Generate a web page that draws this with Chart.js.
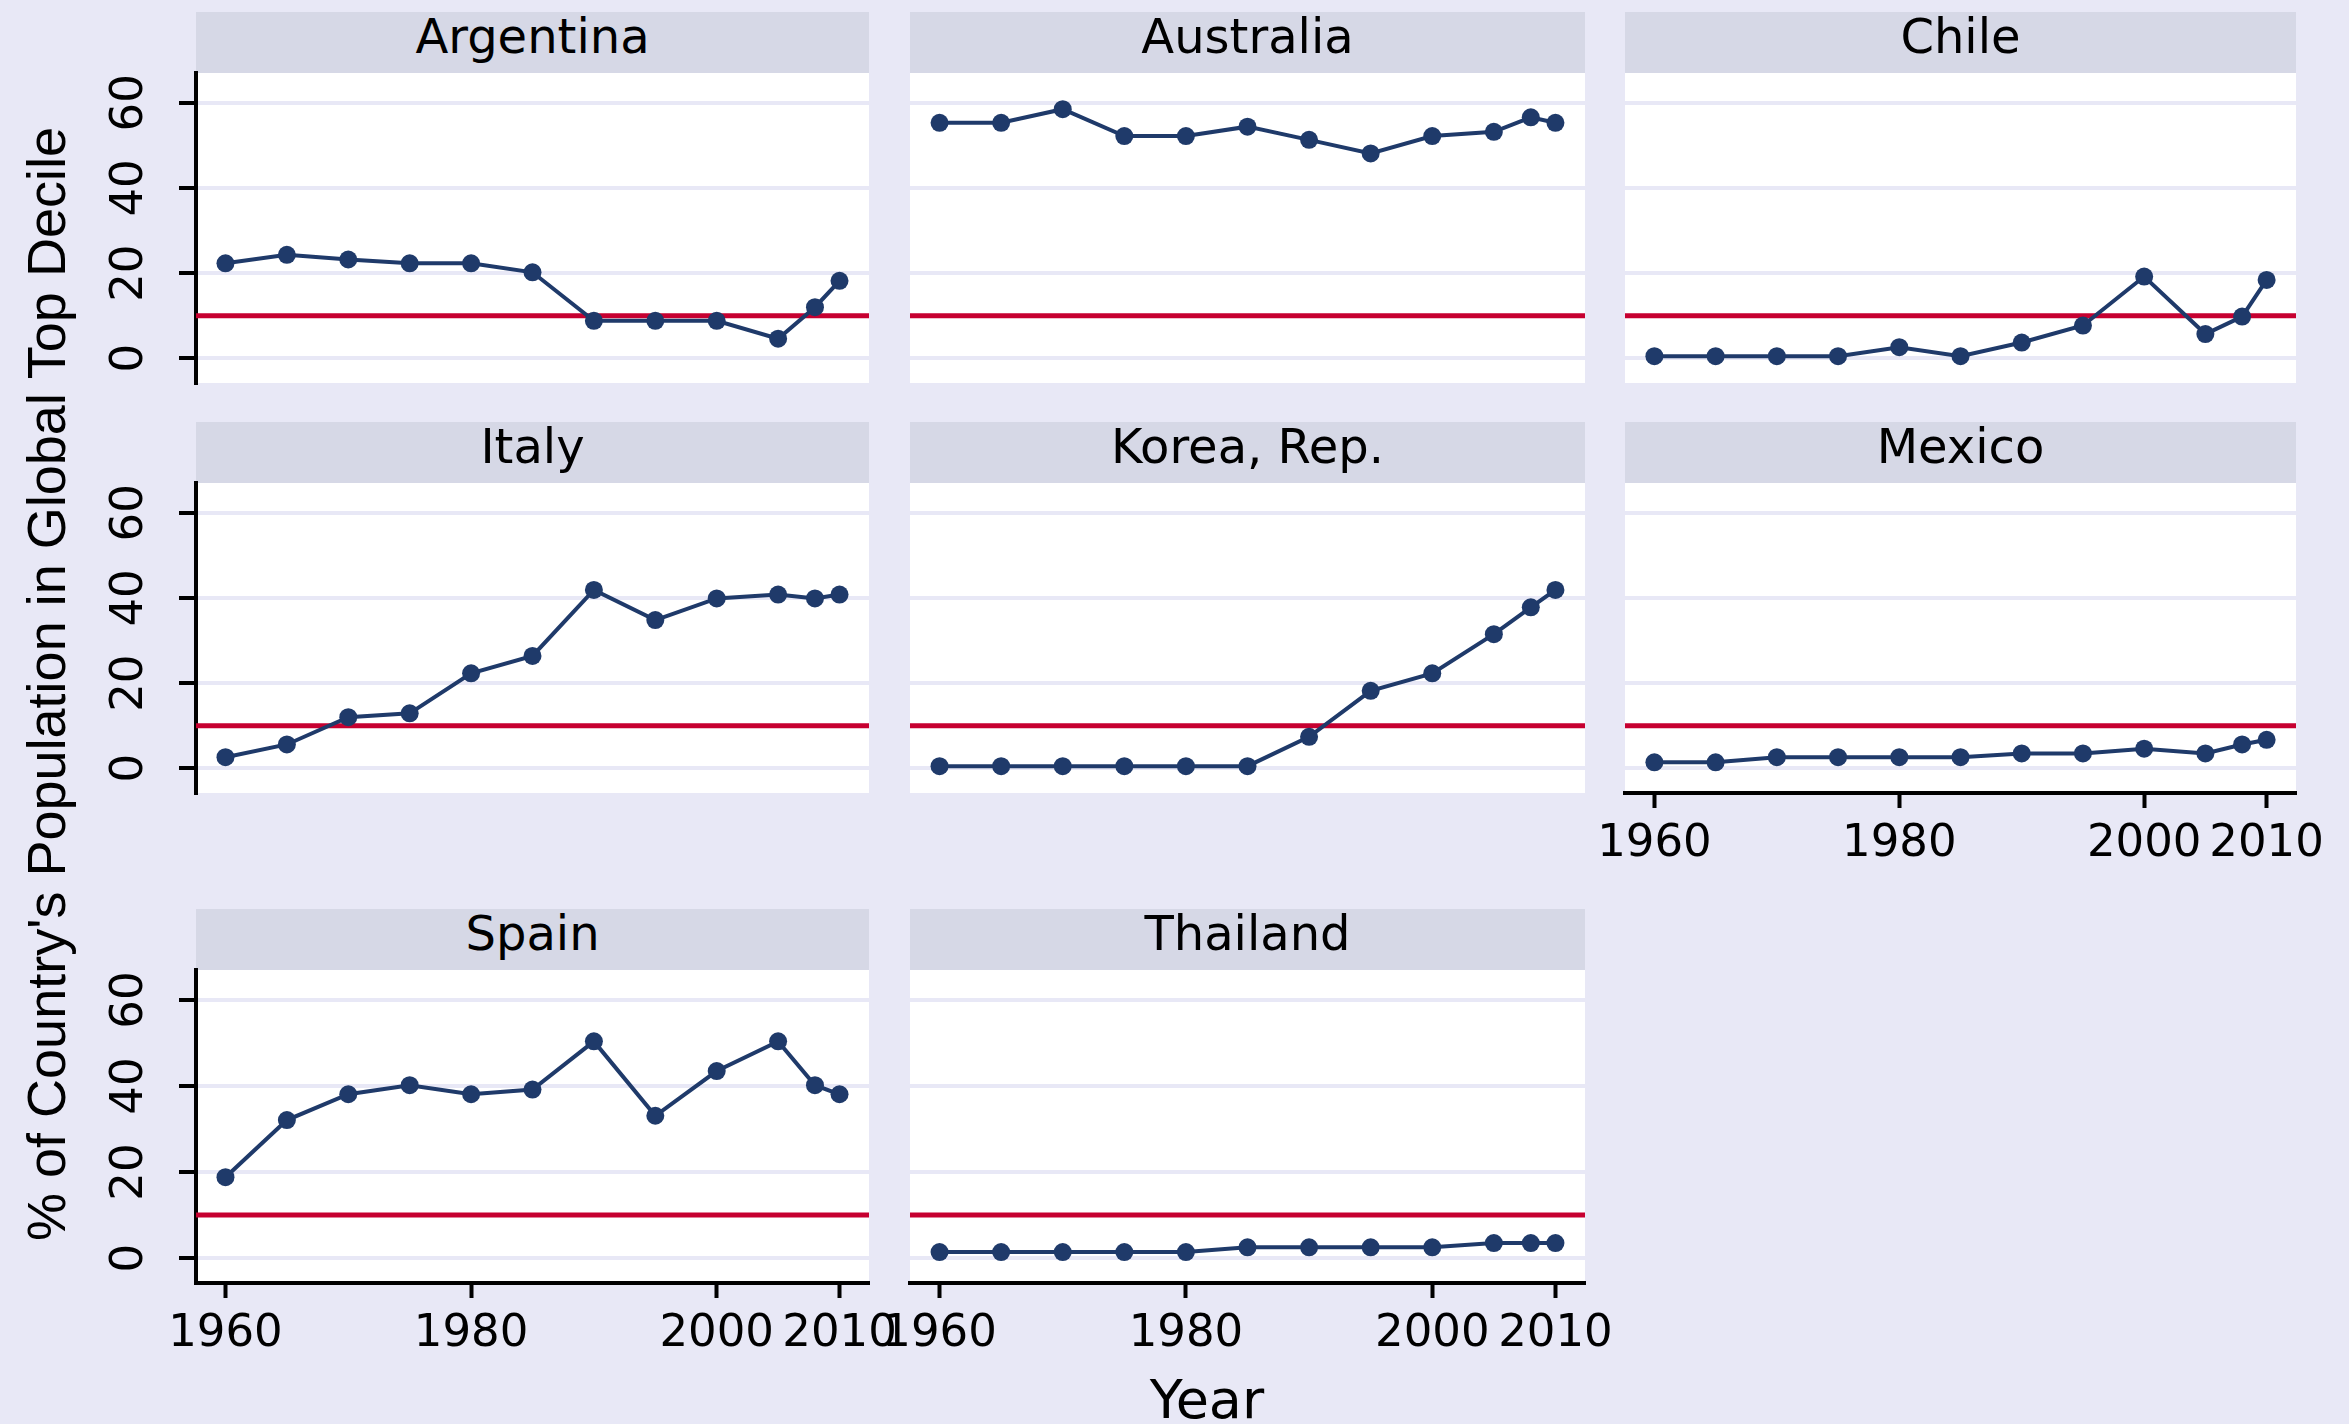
<!DOCTYPE html>
<html>
<head>
<meta charset="utf-8">
<script src="https://cdn.jsdelivr.net/npm/chart.js@4.4.1/dist/chart.umd.min.js"></script>
<style>
  body { margin:0; background:#e8e8f6; width:2349px; height:1424px; overflow:hidden; position:relative; font-family:'DejaVu Sans', sans-serif; }
  .hdr { position:absolute; height:61px; background:#d6d8e6; text-align:center; font-size:48px; line-height:48px; color:#000; }
  canvas { position:absolute; }
  #ytitle { position:absolute; left:46px; top:684px; transform:translate(-50%,-50%) rotate(-90deg); font-family:'Liberation Sans', sans-serif; font-size:54px; line-height:54px; white-space:nowrap; color:#000; }
  #xtitle { position:absolute; left:1207px; top:1373px; transform:translateX(-50%); font-size:54px; line-height:54px; color:#000; }
</style>
</head>
<body>
<div id="ytitle">% of Country's Population in Global Top Decile</div>
<div id="xtitle">Year</div>
<script>
// data
const years = [1960, 1965, 1970, 1975, 1980, 1985, 1990, 1995, 2000, 2005, 2008, 2010];
const countries = ['Argentina', 'Australia', 'Chile', 'Italy', 'Korea, Rep.', 'Mexico', 'Spain', 'Thailand'];
const argentina = [22.3, 24.3, 23.2, 22.3, 22.3, 20.2, 8.8, 8.8, 8.8, 4.6, 12.0, 18.2];
const australia = [55.3, 55.3, 58.5, 52.2, 52.2, 54.4, 51.3, 48.1, 52.2, 53.2, 56.6, 55.3];
const chile     = [0.5, 0.5, 0.5, 0.5, 2.6, 0.5, 3.7, 7.7, 19.2, 5.7, 9.8, 18.4];
const italy     = [2.6, 5.6, 12.0, 12.9, 22.3, 26.4, 41.9, 34.8, 39.9, 40.8, 39.9, 40.8];
const korea     = [0.5, 0.5, 0.5, 0.5, 0.5, 0.5, 7.4, 18.2, 22.3, 31.5, 37.8, 41.9];
const mexico    = [1.4, 1.4, 2.6, 2.6, 2.6, 2.6, 3.5, 3.5, 4.6, 3.5, 5.6, 6.7];
const spain     = [18.8, 32.1, 38.1, 40.2, 38.1, 39.2, 50.4, 33.1, 43.5, 50.4, 40.2, 38.1];
const thailand  = [1.4, 1.4, 1.4, 1.4, 1.4, 2.5, 2.5, 2.5, 2.5, 3.5, 3.5, 3.5];
const series = [argentina, australia, chile, italy, korea, mexico, spain, thailand];
const threshold = 10; // global top decile
const xTicks = [1960, 1980, 2000, 2010];
const yTicks = [0, 20, 40, 60];

// axis ranges
const xMin = 1957.6, xMax = 2012.4;
const yMin = -5.8, yMax = 67;

// panel grid (pixels)
const colLeft = [196, 910, 1625], colWidth = [673, 675, 671];
const rowTop = [73, 483, 970], rowHeight = [310, 310, 313];
const hdrHeight = 61;
const padL = 110, padR = 45, padB = 90, padT = 20;
const withYAxis = [0, 3, 6];
const withXAxis = [5, 6, 7];

const navy = '#1f3a6a', red = '#c60030', gridColor = '#e8e8f6';
const tickFont = { family: 'DejaVu Sans', size: 45 };

// white plot region
const plotBg = {
  id: 'plotBg',
  beforeDraw(chart) {
    const { ctx, chartArea: a } = chart;
    ctx.save();
    ctx.fillStyle = '#ffffff';
    ctx.fillRect(a.left, a.top, a.right - a.left, a.bottom - a.top);
    ctx.restore();
  }
};

countries.forEach((name, i) => {
  const r = Math.floor(i / 3), c = i % 3;
  const showY = withYAxis.includes(i), showX = withXAxis.includes(i);

  const hdr = document.createElement('div');
  hdr.className = 'hdr';
  hdr.textContent = name;
  hdr.style.left = colLeft[c] + 'px';
  hdr.style.width = colWidth[c] + 'px';
  hdr.style.top = (rowTop[r] - hdrHeight) + 'px';
  document.body.appendChild(hdr);

  const cv = document.createElement('canvas');
  cv.width = padL + colWidth[c] + padR;
  cv.height = padT + rowHeight[r] + padB;
  cv.style.left = (colLeft[c] - padL) + 'px';
  cv.style.top = (rowTop[r] - padT) + 'px';
  document.body.appendChild(cv);

  new Chart(cv, {
    type: 'line',
    data: {
      datasets: [{
        data: years.map((yr, k) => ({ x: yr, y: series[i][k] })),
        borderColor: navy,
        backgroundColor: navy,
        borderWidth: 4,
        pointRadius: 9,
        pointBorderWidth: 0,
        order: 0
      }, {
        data: [{ x: xMin, y: threshold }, { x: xMax, y: threshold }],
        borderColor: red,
        borderWidth: 5,
        pointRadius: 0,
        order: 1
      }]
    },
    options: {
      responsive: false,
      animation: false,
      events: [],
      layout: { padding: { left: 0, top: padT, right: padR, bottom: 0 } },
      plugins: { legend: { display: false }, tooltip: { enabled: false } },
      scales: {
        x: {
          type: 'linear', min: xMin, max: xMax,
          afterBuildTicks: s => { s.ticks = xTicks.map(v => ({ value: v })); },
          afterFit: s => { s.height = padB; },
          grid: { drawOnChartArea: false, drawTicks: showX, tickLength: 15, tickColor: '#000', tickWidth: 4 },
          border: { display: showX, color: '#000', width: 4 },
          ticks: { display: showX, autoSkip: false, minRotation: 0, maxRotation: 0, padding: 9,
                   color: '#000', font: tickFont, callback: v => String(v) }
        },
        y: {
          min: yMin, max: yMax,
          afterBuildTicks: s => { s.ticks = yTicks.map(v => ({ value: v })); },
          afterFit: s => { s.width = padL; s.paddingTop = 0; s.paddingBottom = 0; },
          grid: { color: gridColor, lineWidth: 4, drawTicks: showY, tickLength: 17, tickColor: '#000', tickWidth: 4 },
          border: { display: showY, color: '#000', width: 4 },
          ticks: { display: showY, autoSkip: false, minRotation: 90, maxRotation: 90, crossAlign: 'center', padding: 20,
                   color: '#000', font: tickFont, callback: v => String(v) }
        }
      }
    },
    plugins: [plotBg]
  });
});
</script>
</body>
</html>
